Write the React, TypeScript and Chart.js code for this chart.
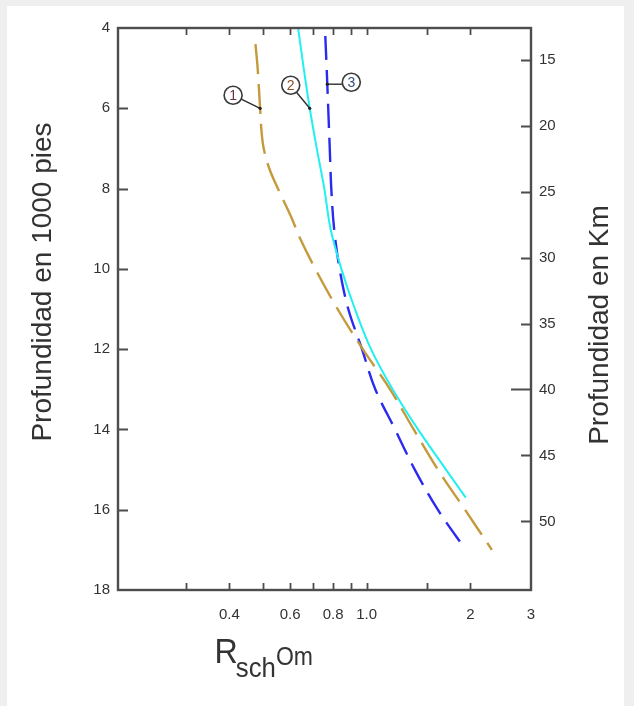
import { useEffect, useRef } from "react";
import { Chart, registerables } from "chart.js";

Chart.register(...registerables);

// Depth (thousands of feet) and resistivity (Ohm·m) for each curve
const depthCurve1 = [4.4, 5.0, 6.0, 6.6, 7.0, 7.5, 8.0, 8.7, 9.2, 10.0, 11.0, 12.0, 13.0, 14.0, 15.0, 16.0, 17.0];
const rschCurve1 = [0.476, 0.483, 0.491, 0.496, 0.503, 0.522, 0.553, 0.604, 0.638, 0.71, 0.824, 0.975, 1.17, 1.37, 1.61, 1.93, 2.31];

const depthCurve2 = [4.0, 5.0, 6.0, 7.0, 8.0, 9.0, 10.0, 11.0, 12.0, 13.0, 14.0, 15.0, 15.7];
const rschCurve2 = [0.633, 0.657, 0.684, 0.717, 0.754, 0.786, 0.845, 0.925, 1.03, 1.19, 1.41, 1.7, 1.94];

const depthCurve3 = [4.2, 5.0, 6.0, 7.0, 8.0, 9.0, 10.0, 11.0, 12.0, 13.0, 14.0, 15.0, 16.0, 17.0];
const rschCurve3 = [0.759, 0.766, 0.774, 0.782, 0.79, 0.805, 0.835, 0.885, 0.97, 1.06, 1.21, 1.38, 1.61, 1.94];

// Axis ticks
const xTickValues = [0.3, 0.4, 0.5, 0.6, 0.7, 0.8, 0.9, 1.0, 1.5, 2, 3];
const xTickText = ["", "0.4", "", "0.6", "", "0.8", "", "1.0", "", "2", "3"];
const depthTicks = [4, 6, 8, 10, 12, 14, 16, 18];
const kmTicks = [15, 20, 25, 30, 35, 40, 45, 50];

// Numbered callouts: curve index, depth of the pointed spot, bubble offset in px
const calloutLabels = ["1", "2", "3"];
const calloutDepths = [6.0, 6.0, 5.4];
const calloutOffsets: [number, number][] = [[-27, -13], [-19, -23], [24, -2]];
const calloutTints = ["#6a3048", "#8a5028", "#34507a"];

const FONT = "'Liberation Sans', Arial, Helvetica, sans-serif";
const INK = "#333333";
const FRAME = "#4d4d4d";

const curves = [
  { depth: depthCurve1, rsch: rschCurve1 },
  { depth: depthCurve2, rsch: rschCurve2 },
  { depth: depthCurve3, rsch: rschCurve3 },
];

function rAtDepth(depths: number[], rs: number[], d: number): number {
  for (let i = 0; i < depths.length - 1; i++) {
    if (d >= depths[i] && d <= depths[i + 1]) {
      const t = (d - depths[i]) / (depths[i + 1] - depths[i]);
      return rs[i] * Math.pow(rs[i + 1] / rs[i], t);
    }
  }
  return rs[0];
}

const toPoints = (depths: number[], rs: number[]) =>
  depths.map((d, i) => ({ x: rs[i], y: d }));

const framePlugin = {
  id: "frameAndNotes",
  afterDraw(chart: any) {
    const { ctx, chartArea: a, scales } = chart;
    const xs = scales.x;
    const ys = scales.y;
    const y2 = scales.y2;
    ctx.save();

    // inward tick marks
    ctx.strokeStyle = FRAME;
    ctx.lineWidth = 1.8;
    ctx.beginPath();
    for (const v of xTickValues) {
      if (v <= xs.min || v >= xs.max) continue;
      const px = Math.round(xs.getPixelForValue(v)) + 0.5;
      ctx.moveTo(px, a.bottom);
      ctx.lineTo(px, a.bottom - 7);
      ctx.moveTo(px, a.top);
      ctx.lineTo(px, a.top + 7);
    }
    for (const v of depthTicks) {
      if (v <= ys.min || v >= ys.max) continue;
      const py = Math.round(ys.getPixelForValue(v)) + 0.5;
      ctx.moveTo(a.left, py);
      ctx.lineTo(a.left + 10, py);
    }
    for (const v of kmTicks) {
      const py = Math.round(y2.getPixelForValue(v)) + 0.5;
      ctx.moveTo(a.right, py);
      ctx.lineTo(a.right - (v === 40 ? 20 : 10), py);
    }
    ctx.stroke();

    // frame
    ctx.lineWidth = 2.4;
    ctx.strokeRect(a.left, a.top, a.right - a.left, a.bottom - a.top);

    // numbered callouts
    curves.forEach((c, i) => {
      const d = calloutDepths[i];
      const r = rAtDepth(c.depth, c.rsch, d);
      const ax = xs.getPixelForValue(r);
      const ay = ys.getPixelForValue(d);
      const cx = ax + calloutOffsets[i][0];
      const cy = ay + calloutOffsets[i][1];
      const rad = 9;
      const dx = ax - cx;
      const dy = ay - cy;
      const len = Math.hypot(dx, dy);
      ctx.strokeStyle = "#2e2e2e";
      ctx.lineWidth = 1.4;
      ctx.beginPath();
      if (i === 2) {
        // horizontal leader
        ctx.moveTo(cx - rad, ay);
        ctx.lineTo(ax, ay);
      } else {
        ctx.moveTo(cx + (dx / len) * rad, cy + (dy / len) * rad);
        ctx.lineTo(ax, ay);
      }
      ctx.stroke();
      ctx.fillStyle = "#222";
      ctx.beginPath();
      ctx.arc(ax, ay, 1.6, 0, Math.PI * 2);
      ctx.fill();
      ctx.beginPath();
      ctx.arc(cx, cy, rad, 0, Math.PI * 2);
      ctx.fillStyle = "#ffffff";
      ctx.fill();
      ctx.strokeStyle = "#3a3a3a";
      ctx.lineWidth = 1.6;
      ctx.stroke();
      ctx.fillStyle = calloutTints[i];
      ctx.font = `14px ${FONT}`;
      ctx.textAlign = "center";
      ctx.textBaseline = "middle";
      ctx.fillText(calloutLabels[i], cx, cy + 0.5);
    });

    // axis titles
    ctx.fillStyle = "#333333";
    ctx.textAlign = "center";
    ctx.textBaseline = "middle";
    ctx.font = `28px ${FONT}`;
    ctx.save();
    ctx.translate(43, (a.top + a.bottom) / 2 - 27);
    ctx.rotate(-Math.PI / 2);
    ctx.fillText("Profundidad en 1000 pies", 0, 0);
    ctx.restore();

    ctx.save();
    ctx.translate(600, (a.top + a.bottom) / 2 + 16);
    ctx.rotate(-Math.PI / 2);
    ctx.fillText("Profundidad en Km", 0, 0);
    ctx.restore();

    // R_sch Om
    const tx = xs.getPixelForValue(0.4) - 15;
    const base = a.bottom + 73;
    ctx.save();
    ctx.translate(tx, base);
    ctx.scale(0.92, 1);
    ctx.textAlign = "left";
    ctx.textBaseline = "alphabetic";
    ctx.font = `35px ${FONT}`;
    ctx.fillText("R", 0, 0);
    const wR = ctx.measureText("R").width;
    ctx.font = `28px ${FONT}`;
    ctx.fillText("sch", wR - 2, 14);
    const wS = ctx.measureText("sch").width;
    ctx.font = `25px ${FONT}`;
    ctx.fillText("Om", wR - 2 + wS, 2);
    ctx.restore();

    ctx.restore();
  },
};

export default function App() {
  const canvasRef = useRef<HTMLCanvasElement>(null);

  useEffect(() => {
    document.body.style.margin = "0";
    const canvas = canvasRef.current;
    if (!canvas) return;

    const chart = new Chart(canvas, {
      type: "line",
      data: {
        datasets: [
          {
            label: "1",
            data: toPoints(depthCurve1, rschCurve1),
            borderColor: "#c49a3c",
            borderWidth: 2.4,
            borderDash: [30, 10],
            pointRadius: 0,
            tension: 0.35,
            yAxisID: "y",
          },
          {
            label: "2",
            data: toPoints(depthCurve2, rschCurve2),
            borderColor: "#22f0f0",
            borderWidth: 2,
            pointRadius: 0,
            tension: 0.35,
            yAxisID: "y",
          },
          {
            label: "3",
            data: toPoints(depthCurve3, rschCurve3),
            borderColor: "#2a2af0",
            borderWidth: 2.4,
            borderDash: [24, 10],
            pointRadius: 0,
            tension: 0.35,
            yAxisID: "y",
          },
        ],
      },
      options: {
        responsive: false,
        animation: false,
        devicePixelRatio: 1,
        layout: { padding: { top: 28, left: 0, right: 0, bottom: 0 } },
        plugins: {
          legend: { display: false },
          tooltip: { enabled: false },
        },
        scales: {
          x: {
            type: "logarithmic",
            position: "bottom",
            min: 0.19,
            max: 3,
            grid: { display: false, drawTicks: false },
            border: { display: false },
            afterBuildTicks: (s: any) => {
              s.ticks = xTickValues.map((v) => ({ value: v }));
            },
            afterFit: (s: any) => {
              s.height = 116;
            },
            ticks: {
              autoSkip: false,
              maxRotation: 0,
              padding: 16,
              color: INK,
              font: { family: FONT, size: 15 },
              callback: (v: any) => {
                const i = xTickValues.findIndex((t) => Math.abs(t - Number(v)) < 1e-9);
                return i >= 0 ? xTickText[i] : "";
              },
            },
          },
          y: {
            type: "linear",
            position: "left",
            reverse: true,
            min: 4,
            max: 18,
            grid: { display: false, drawTicks: false },
            border: { display: false },
            afterBuildTicks: (s: any) => {
              s.ticks = depthTicks.map((v) => ({ value: v }));
            },
            afterFit: (s: any) => {
              s.width = 118;
            },
            ticks: {
              padding: 8,
              color: INK,
              font: { family: FONT, size: 15 },
            },
          },
          y2: {
            type: "linear",
            position: "right",
            reverse: true,
            min: 12.6,
            max: 55.2,
            grid: { display: false, drawTicks: false },
            border: { display: false },
            afterBuildTicks: (s: any) => {
              s.ticks = kmTicks.map((v) => ({ value: v }));
            },
            afterFit: (s: any) => {
              s.width = 103;
            },
            ticks: {
              padding: 8,
              color: INK,
              font: { family: FONT, size: 15 },
            },
          },
        },
      },
      plugins: [framePlugin],
    });

    return () => chart.destroy();
  }, []);

  return (
    <div style={{ position: "relative", width: 634, height: 706, background: "#efefef", overflow: "hidden" }}>
      <div style={{ position: "absolute", left: 7, top: 6, width: 617, height: 700, background: "#ffffff" }} />
      <canvas
        ref={canvasRef}
        width={634}
        height={706}
        style={{ position: "absolute", left: 0, top: 0, width: 634, height: 706 }}
      />
    </div>
  );
}
